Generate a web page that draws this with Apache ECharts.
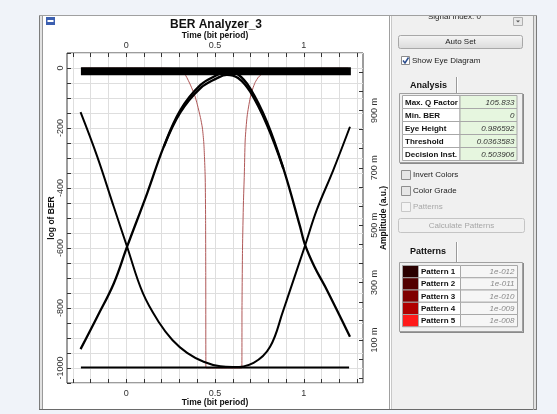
<!DOCTYPE html>
<html><head><meta charset="utf-8">
<script src="https://cdn.jsdelivr.net/npm/echarts@6/dist/echarts.min.js"></script>
<style>html,body{margin:0;padding:0;background:#f0f3f9;}#c{width:557px;height:414px;}</style>
</head><body><div id="c"></div>
<script>
// ---------------- data ----------------
const timeTicks = [-0.3,-0.2,-0.1,0,0.1,0.2,0.3,0.4,0.5,0.6,0.7,0.8,0.9,1,1.1,1.2,1.3];
const timeLabels = [0, 0.5, 1];
const ampTicks = [-0.033,0.033,0.1,0.167,0.233,0.3,0.367,0.433,0.5,0.567,0.633,0.7,0.767,0.833,0.9,0.967,1.033];
const ampLabels = [0.1, 0.3, 0.5, 0.7, 0.9];

// red curve: log of BER vs time
const berTime = [-0.25,0.0,0.2,0.27,0.306,0.335,0.362,0.385,0.401,0.418,0.429,0.437,0.441,0.445,0.447,0.448,0.449,0.651,0.652,0.655,0.66,0.665,0.67,0.681,0.698,0.712,0.726,0.745,0.766,0.81,0.87,1.0,1.25];
const berLog  = [-0.3,-0.3,-0.5,-2,-7,-25,-57,-90,-123,-165,-200,-250,-300,-370,-500,-700,-1000,-1000,-800,-600,-450,-357,-240,-160,-100,-70,-48,-30,-20,-10,-4,-1,-0.3];

// eye diagram traces: amplitude (a.u.) vs time
const capTime = [-0.257,-0.163,-0.07,0.005,0.118,0.211,0.305,0.417,0.511,0.567,0.63,0.698,0.792,0.885,0.979,1.005,1.06,1.12,1.26];
const capAmp  = [0.068,0.181,0.297,0.425,0.611,0.773,0.901,0.988,1.023,1.035,1.025,0.977,0.861,0.698,0.495,0.435,0.355,0.286,0.111];
const capInnerTime = [0.211,0.305,0.417,0.511,0.567,0.63,0.698,0.792,0.885];
const capInnerAmp  = [0.772,0.893,0.977,1.012,1.024,1.013,0.965,0.85,0.697];
const cupTime = [-0.257,-0.163,-0.07,0.005,0.094,0.188,0.26,0.343,0.436,0.53,0.6,0.717,0.81,0.885,0.904,1.005,1.073,1.166,1.26];
const cupAmp  = [0.894,0.739,0.564,0.425,0.263,0.158,0.1,0.055,0.024,0.008,0.006,0.02,0.076,0.204,0.239,0.425,0.553,0.692,0.843];
const oneTime = [-0.255, 1.265];
const oneAmp  = [1.036, 1.036];
const zeroTime = [-0.255, 1.255];
const zeroAmp  = [0.004, 0.004];

const analysisNames  = ['Max. Q Factor','Min. BER','Eye Height','Threshold','Decision Inst.'];
const analysisValues = ['105.833','0','0.986592','0.0363583','0.503906'];
const patternNames = ['Pattern 1','Pattern 2','Pattern 3','Pattern 4','Pattern 5'];
const patternBER   = ['1e-012','1e-011','1e-010','1e-009','1e-008'];

// ---------------- styles / layout ----------------
const patternColors = ['#2a0000','#520000','#800000','#b00000','#ff1a1a'];
const FF = '"Liberation Sans", Arial, sans-serif';
const zip = (a, b) => a.map((v, i) => [v, b[i]]);

const G = [];
function rect(x, y, w, h, fill, stroke, z, r) {
  G.push({type:'rect', silent:true, z: z === undefined ? -5 : z,
    shape:{x, y, width:w, height:h, r: r || 0},
    style:{fill: fill || 'none', stroke: stroke || null, lineWidth: 1}});
}
function line(x1, y1, x2, y2, stroke, z, w) {
  G.push({type:'line', silent:true, z: z === undefined ? -4 : z,
    shape:{x1, y1, x2, y2}, style:{stroke, lineWidth: w || 1}});
}
function txt(x, y, s, font, fill, align, z) {
  G.push({type:'text', silent:true, z: z === undefined ? -3 : z, x, y,
    style:{text:s, font, fill: fill || '#111', textAlign: align || 'left', textVerticalAlign:'middle'}});
}

// window frame
rect(43, 16, 348, 393, '#ffffff', null, -10);
rect(40, 15, 2, 395, '#e2e2e2', null, -9);
line(39.5, 15, 39.5, 410, '#7c7c7c');
line(42.5, 15, 42.5, 410, '#9a9a9a');
line(39, 409.5, 537, 409.5, '#6a6a6a');
// icon
rect(46, 17, 9, 8, '#3c5fb0', null, -3);
rect(47.5, 20, 6, 2, '#ffffff', null, -2);
// title
txt(216, 25, 'BER Analyzer_3', 'bold 12px ' + FF, '#111', 'center');

// right panel
rect(392, 16, 141, 393, '#f0f0f0', null, -10);
line(389.5, 16, 389.5, 409, '#a0a0a0');
line(391.5, 16, 391.5, 409, '#c8c8c8');
rect(534, 15, 2, 395, '#e2e2e2', null, -9);
line(533.5, 15, 533.5, 410, '#a0a0a0');
line(536.5, 15, 536.5, 410, '#7a7a7a');

txt(428, 16.8, 'Signal Index: 0', '8px ' + FF, '#222');
rect(513.5, 17.5, 9, 8, '#e8e8e8', '#b0b0b0', -3);
G.push({type:'polygon', silent:true, z:-2, shape:{points:[[516,20.5],[520,20.5],[518,22.5]]}, style:{fill:'#555'}});
// cover top (clips the partially visible text)
rect(0, 0, 557, 15, '#f0f3f9', null, 8);
line(39, 15.5, 537, 15.5, '#a0a0a0', 9);

// Auto Set button
G.push({type:'rect', silent:true, z:-5, shape:{x:398.5, y:35.5, width:124, height:13, r:2},
  style:{fill:{type:'linear', x:0, y:0, x2:0, y2:1, colorStops:[{offset:0,color:'#f6f6f6'},{offset:1,color:'#dadada'}]}, stroke:'#a8a8a8', lineWidth:1}});
txt(460.5, 42, 'Auto Set', '8px ' + FF, '#222', 'center');

// Show Eye Diagram checkbox
rect(401.5, 56.5, 8, 8, '#ffffff', '#8a8a8a', -4);
G.push({type:'polyline', silent:true, z:-2, shape:{points:[[403,60.5],[405,63],[408.5,57.5]]}, style:{stroke:'#2a4c8c', lineWidth:1.5, fill:null}});
txt(412, 61, 'Show Eye Diagram', '8px ' + FF, '#222');

// Analysis tab + table
txt(410, 85.5, 'Analysis', 'bold 9px ' + FF, '#111');
line(456.5, 77, 456.5, 94, '#9a9a9a');
line(457.5, 77, 457.5, 94, '#ffffff');
rect(399.5, 93.5, 123, 69, 'none', '#a0a0a0', -4);
line(523.5, 94, 523.5, 164, '#8a8a8a');
line(400, 163.5, 524, 163.5, '#8a8a8a');
for (let i = 0; i < analysisNames.length; i++) {
  const top = 95.5 + i * 13;
  rect(402.5, top, 57.5, 13, '#ffffff', '#a8a8a8', -4);
  rect(460, top, 57, 13, '#e6f6df', '#a8a8a8', -4);
  txt(405, top + 6.8, analysisNames[i], 'bold 8px ' + FF, '#111');
  txt(514.5, top + 6.8, analysisValues[i], 'italic 8px ' + FF, '#333', 'right');
}

// checkboxes
[['Invert Colors', 175, false], ['Color Grade', 191, false], ['Patterns', 207, true]].forEach(([s, y, dis]) => {
  rect(401.5, y - 4.5, 9, 9, dis ? '#f4f4f4' : '#e6e6e6', dis ? '#c8c8c8' : '#8e8e8e', -4);
  txt(413, y, s, '8px ' + FF, dis ? '#a8a8a8' : '#222');
});

// Calculate Patterns (disabled)
rect(398.5, 218.5, 126, 14, '#f0f0f0', '#c4c4c4', -4, 2);
txt(461.5, 225.8, 'Calculate Patterns', '8px ' + FF, '#a6a6a6', 'center');

// Patterns tab + table
txt(410, 252, 'Patterns', 'bold 9px ' + FF, '#111');
line(456.5, 242, 456.5, 262, '#9a9a9a');
line(457.5, 242, 457.5, 262, '#ffffff');
rect(399.5, 262.5, 123, 69, 'none', '#a0a0a0', -4);
line(523.5, 263, 523.5, 333, '#8a8a8a');
line(400, 332.5, 524, 332.5, '#8a8a8a');
for (let i = 0; i < patternNames.length; i++) {
  const top = 265.5 + i * 12.25;
  rect(402.5, top, 16, 12.25, patternColors[i], '#a0a0a0', -4);
  rect(418.5, top, 42, 12.25, '#ffffff', '#a8a8a8', -4);
  rect(460.5, top, 57, 12.25, '#f6f6f6', '#a8a8a8', -4);
  txt(421, top + 6.4, patternNames[i], 'bold 8px ' + FF, '#111');
  txt(514.5, top + 6.4, patternBER[i], 'italic 8px ' + FF, '#8a8a8a', 'right');
}

// ---------------- chart ----------------
const chart = echarts.init(document.getElementById('c'), null, {renderer:'canvas'});
const tickStyle = {inside:true, length:4, lineStyle:{color:'#333', width:1}};
const labelFont = {fontFamily: FF, fontSize: 9, color: '#333'};
const nameFont = {fontFamily: FF, fontSize: 8.5, fontWeight: 'bold', color: '#111'};
const noLine = {show:false, onZero:false};

chart.setOption({
  backgroundColor: '#f0f3f9',
  animation: false,
  graphic: {elements: G},
  grid: {left: 67, right: 194, top: 53, bottom: 31, show: true, backgroundColor: '#ffffff',
         borderColor: '#3a3a3a', borderWidth: 1, containLabel: false, outerBoundsMode: 'none'},
  xAxis: [
    {type:'value', min:-1/3, max:4/3, position:'bottom',
     name:'Time (bit period)', nameLocation:'middle', nameGap:15.5, nameMoveOverlap:false, nameTextStyle: nameFont,
     axisLine: noLine,
     axisTick: Object.assign({customValues: timeTicks}, tickStyle),
     axisLabel: Object.assign({customValues: timeLabels, margin:6}, labelFont),
     splitLine:{show:true, lineStyle:{color:'#dedede', width:1}}},
    {type:'value', min:-1/3, max:4/3, position:'top',
     name:'Time (bit period)', nameLocation:'middle', nameGap:12.5, nameMoveOverlap:false, nameTextStyle: nameFont,
     axisLine: noLine,
     axisTick: Object.assign({customValues: timeTicks}, tickStyle),
     axisLabel: Object.assign({customValues: timeLabels, margin:2.5}, labelFont),
     splitLine:{show:false}}
  ],
  yAxis: [
    {type:'value', min:-1050, max:50, interval:50, position:'left',
     name:'log of BER', nameLocation:'middle', nameRotate:90, nameGap:11, nameMoveOverlap:false, nameTextStyle: nameFont,
     axisLine: noLine,
     axisTick: tickStyle,
     axisLabel: Object.assign({rotate:90, margin:2,
        formatter: v => (Math.round(v) % 200 === 0 ? String(Math.round(v)) : '')}, labelFont),
     splitLine:{show:true, lineStyle:{color:'#dedede', width:1}}},
    {type:'value', min:-0.05, max:1.1, position:'right',
     name:'Amplitude (a.u.)', nameLocation:'middle', nameRotate:90, nameGap:16, nameMoveOverlap:false, nameTextStyle: nameFont,
     axisLine: noLine,
     axisTick: Object.assign({customValues: ampTicks}, tickStyle),
     axisLabel: Object.assign({rotate:90, margin:7.5, customValues: ampLabels,
        formatter: v => Math.round(v * 1000) + ' m'}, labelFont),
     splitLine:{show:false}}
  ],
  series: [
    {type:'line', name:'log of BER', xAxisIndex:0, yAxisIndex:0, data: zip(berTime, berLog),
     showSymbol:false, smooth:0.2, lineStyle:{color:'#b05858', width:1}, z:2},
    {type:'line', xAxisIndex:0, yAxisIndex:1, data: zip(oneTime, oneAmp),
     showSymbol:false, lineStyle:{color:'#000', width:8, cap:'butt'}, z:3},
    {type:'line', xAxisIndex:0, yAxisIndex:1, data: zip(zeroTime, zeroAmp),
     showSymbol:false, lineStyle:{color:'#000', width:2}, z:3},
    {type:'line', xAxisIndex:0, yAxisIndex:1, data: zip(cupTime, cupAmp),
     showSymbol:false, smooth:0.4, lineStyle:{color:'#000', width:2}, z:3},
    {type:'line', xAxisIndex:0, yAxisIndex:1, data: zip(capTime, capAmp),
     showSymbol:false, smooth:0.4, lineStyle:{color:'#000', width:2.3}, z:3},
    {type:'line', xAxisIndex:0, yAxisIndex:1, data: zip(capInnerTime, capInnerAmp),
     showSymbol:false, smooth:0.4, lineStyle:{color:'#000', width:2.3}, z:3}
  ]
});
</script></body></html>
